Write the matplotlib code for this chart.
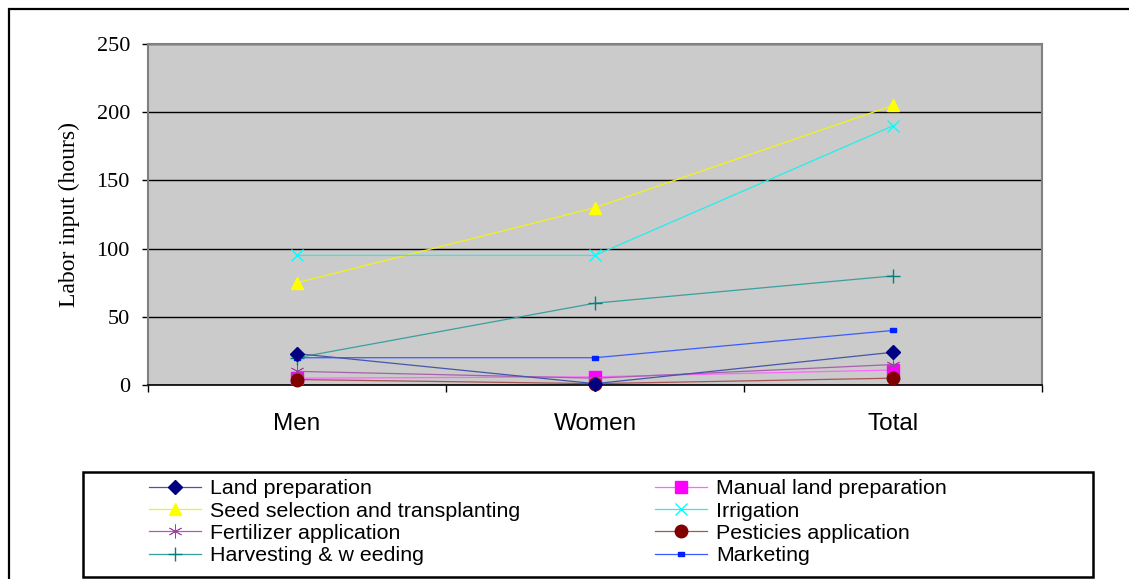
import numpy as np
import matplotlib.pyplot as plt
from matplotlib.patches import Rectangle
from matplotlib.path import Path

groups = ['Men', 'Women', 'Total']

land_prep = [23, 1, 24]
manual_land_prep = [5, 6, 11]
seed_selection = [75, 130, 205]
irrigation = [95, 95, 190]
fertilizer = [10, 5, 15]
pesticides = [4, 1, 5]
harvesting = [20, 60, 80]
marketing = [20, 20, 40]

W, H = 1129, 579
fig = plt.figure(figsize=(W / 100, H / 100), dpi=100)

# outer chart border (right and bottom sides run off the canvas)
fig.patches.append(Rectangle((9 / W, -0.2), 1.2, 1 - 9 / H + 0.2, transform=fig.transFigure,
                             fill=False, ec='black', lw=1.6))

ax = fig.add_axes([148 / W, 1 - 385 / H, (1042 - 148) / W, (385 - 44) / H])
ax.set_facecolor('#cbcbcb')

x = np.arange(len(groups))
# short horizontal bar used as the marketing marker
bar = Path([(-1, -0.45), (1, -0.45), (1, 0.45), (-1, 0.45), (-1, -0.45)],
           [Path.MOVETO, Path.LINETO, Path.LINETO, Path.LINETO, Path.CLOSEPOLY])


def series(y, line_c, mark_c, marker, ms, mew=1.0, z=4):
    return ax.plot(x, y, color=line_c, lw=0.9, marker=marker, ms=ms, mew=mew,
                   mfc=mark_c, mec=mark_c, zorder=z, clip_on=False)[0]


lines = {}
lines['Land preparation'] = series(land_prep, '#4656a8', '#000080', 'D', 7, z=5)
lines['Manual land preparation'] = series(manual_land_prep, '#ff66ff', '#ff00ff', 's', 8)
lines['Seed selection and transplanting'] = series(seed_selection, '#f2f21a', '#ffff00', '^', 9)
lines['Irrigation'] = series(irrigation, '#22eeee', '#00ffff', 'x', 9)
lines['Fertilizer application'] = series(fertilizer, '#a860a8', '#a040a0', (6, 2, 0), 10, mew=0.6)
lines['Pesticies application'] = series(pesticides, '#a85454', '#800000', 'o', 9)
lines['Harvesting & w eeding'] = series(harvesting, '#3a9f9f', '#008080', '+', 10)
lines['Marketing'] = series(marketing, '#3a5cff', '#0022ff', bar, 5)

ax.set_xlim(-0.5, 2.5)
ax.set_ylim(0, 250)
ax.set_yticks(np.arange(0, 251, 50))
ax.yaxis.grid(True, color='black', lw=1)
ax.set_axisbelow(True)

ax.set_xticks(x)
ax.set_xticklabels(groups, fontsize=17.5, family=['Liberation Sans', 'DejaVu Sans'])
ax.set_xticks(np.arange(-0.5, 3, 1), minor=True)
ax.tick_params(axis='x', which='major', length=0, pad=20)
ax.tick_params(axis='x', which='minor', length=5, width=1, direction='out', color='black')
ax.tick_params(axis='y', length=4, width=1, direction='out', color='black', pad=9, labelsize=16)
for lab in ax.get_yticklabels():
    lab.set_family(['Liberation Serif', 'DejaVu Serif'])

ax.set_ylabel('Labor input (hours)', fontsize=17, family=['Liberation Serif', 'DejaVu Serif'], labelpad=12)

for side in ['left', 'top', 'right']:
    ax.spines[side].set_color('#808080')
    ax.spines[side].set_linewidth(1.5)
ax.spines['bottom'].set_color('black')
ax.spines['bottom'].set_linewidth(1.2)

# legend: two columns, filled row by row
names = list(lines.keys())
order = names[0::2] + names[1::2]
fig.patches.append(Rectangle((83 / W, 1 - 577 / H), (1093 - 83) / W, (577 - 472) / H,
                             transform=fig.transFigure, fill=False, ec='black', lw=1.8))
leg = fig.legend([lines[n] for n in order], order, ncol=2, frameon=False,
                 loc='upper left', bbox_to_anchor=(143 / W, 1 - 473 / H),
                 prop={'family': ['Liberation Sans', 'DejaVu Sans'], 'size': 15.4},
                 handlelength=2.4, handletextpad=0.45, columnspacing=6.3,
                 labelspacing=0.15, borderaxespad=0, borderpad=0.3)

fig.savefig('out.png', dpi=100)
